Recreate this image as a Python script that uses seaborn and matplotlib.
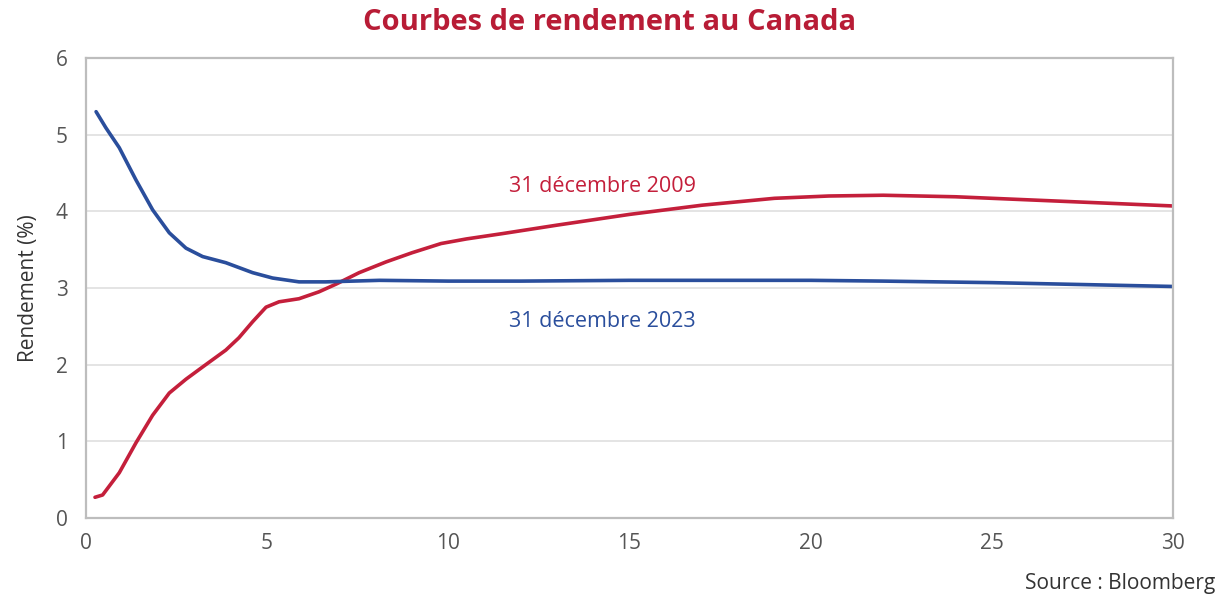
import seaborn as sns
import matplotlib.pyplot as plt
import pandas as pd

# echeances (annees) et rendements
x_2009 = [0.25, 0.46, 0.92, 1.38, 1.84, 2.3, 2.76, 3.22, 3.86, 4.22, 4.6, 4.97, 5.33, 5.88, 6.43,
          6.9, 7.54, 8.28, 9.0, 9.8, 10.5, 11.5, 13.0, 15.0, 17.0, 19.0, 20.5, 22.0, 24.0, 26.0, 28.0, 30.0]
y_2009 = [0.27, 0.30, 0.59, 0.98, 1.34, 1.63, 1.81, 1.97, 2.19, 2.35, 2.56, 2.75, 2.82, 2.86, 2.95,
          3.05, 3.20, 3.34, 3.46, 3.58, 3.64, 3.71, 3.82, 3.96, 4.08, 4.17, 4.20, 4.21, 4.19, 4.15, 4.11, 4.07]

x_2023 = [0.28, 0.55, 0.92, 1.38, 1.84, 2.3, 2.76, 3.22, 3.86, 4.6, 5.15, 5.88, 6.62, 7.36, 8.1,
          10.0, 12.0, 15.0, 18.0, 20.0, 22.0, 25.0, 28.0, 30.0]
y_2023 = [5.30, 5.09, 4.83, 4.41, 4.02, 3.72, 3.52, 3.41, 3.33, 3.20, 3.13, 3.08, 3.08, 3.09, 3.10,
          3.09, 3.09, 3.10, 3.10, 3.10, 3.09, 3.07, 3.04, 3.02]

df = pd.concat([
    pd.DataFrame({"echeance": x_2009, "rendement": y_2009, "courbe": "31 décembre 2009"}),
    pd.DataFrame({"echeance": x_2023, "rendement": y_2023, "courbe": "31 décembre 2023"}),
])

red = "#c41f3b"
blue = "#2a4e9c"
grey = "#555555"

sns.set_style("white")
plt.rcParams["font.family"] = ["Open Sans", "DejaVu Sans"]

fig = plt.figure(figsize=(12.19, 6), dpi=100)
ax = fig.add_axes([0.0705, 0.1367, 0.8918, 0.7666])

sns.lineplot(data=df, x="echeance", y="rendement", hue="courbe",
             palette={"31 décembre 2009": red, "31 décembre 2023": blue},
             linewidth=2.6, legend=False, ax=ax)
for ln in ax.lines:
    ln.set_solid_joinstyle("round")

ax.set_xlim(0, 30)
ax.set_ylim(0, 6)
ax.set_xticks([0, 5, 10, 15, 20, 25, 30])
ax.set_yticks([0, 1, 2, 3, 4, 5, 6])
ax.yaxis.grid(True, color="#e2e2e2", linewidth=1.3)
ax.tick_params(axis="both", length=0, labelsize=15, labelcolor=grey)
ax.tick_params(axis="y", pad=13)
ax.tick_params(axis="x", pad=11)
for s in ax.spines.values():
    s.set_color("#bdbdbd")
    s.set_linewidth(1.6)

ax.set_xlabel("")
ax.set_ylabel("Rendement (%)", fontsize=15, color="#333333", labelpad=12)

ax.text(14.25, 4.32, "31 décembre 2009", color=red, fontsize=15.5, ha="center", va="center")
ax.text(14.25, 2.56, "31 décembre 2023", color=blue, fontsize=15.5, ha="center", va="center")

fig.text(0.5, 0.962, "Courbes de rendement au Canada", color="#b81c36",
         fontsize=21, fontweight="bold", ha="center", va="center")
fig.text(0.997, 0.028, "Source : Bloomberg", color="#333333", fontsize=15,
         ha="right", va="center")

fig.savefig("out.png", dpi=100)
